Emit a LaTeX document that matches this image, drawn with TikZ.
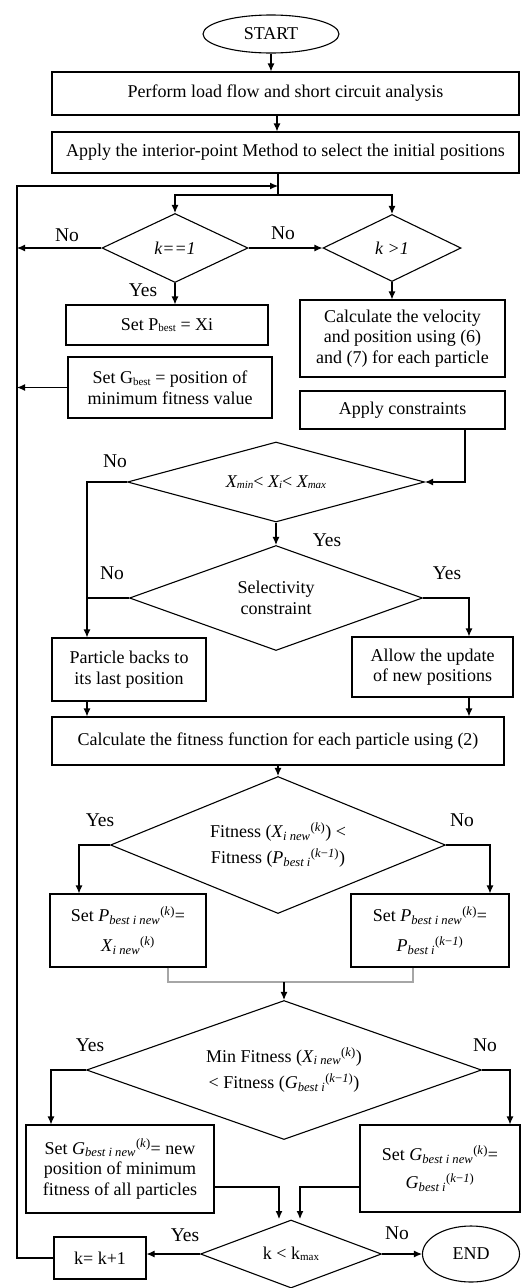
\documentclass[tikz,border=0pt]{standalone}
\usepackage{fontspec}
\setmainfont{Liberation Serif}
\usetikzlibrary{shapes.geometric,arrows.meta}
\newcommand{\sbx}[1]{\raisebox{-1.5pt}{\fontsize{11}{12}\selectfont #1}}
\newcommand{\vv}[3]{\textit{#1}\textsubscript{\textit{#2}}\textsuperscript{(\textit{#3})}}
\begin{document}
\begin{tikzpicture}[x=1pt,y=-1pt,
  font=\fontsize{18}{20.5}\selectfont,
  line width=1.1pt,
  box/.style={draw,rectangle,inner sep=0pt,align=center},
  dia/.style={draw,diamond,inner sep=0pt,align=center},
  oval/.style={draw,ellipse,inner sep=0pt},
  arr/.style={-{Latex[length=8pt,width=7pt]}},
  lbl/.style={inner sep=0pt,font=\fontsize{19.5}{22}\selectfont},
]
\useasboundingbox (0,0) rectangle (523,1288);

% nodes
\node[oval,minimum width=136pt,minimum height=38pt] (start) at (271,34) {START};
\node[box,minimum width=467pt,minimum height=43pt] (b1) at (285.5,93.5) {Perform load flow and short circuit analysis};
\node[box,minimum width=467pt,minimum height=41pt] (b2) at (285.5,152.5) {Apply the interior-point Method to select the initial positions};

\node[dia,aspect=2.1,minimum width=146pt,minimum height=69pt] (d1) at (175,248) {\textit{k==1}};
\node[dia,aspect=2.05,minimum width=138pt,minimum height=67pt] (d2) at (392,248) {\textit{k >1}};

\node[box,minimum width=202pt,minimum height=40pt] (pb) at (167,325) {Set P\sbx{best} = Xi};
\node[box,minimum width=205pt,minimum height=77pt] (calc) at (402.5,338.5) {Calculate the velocity\\and position using (6)\\and (7) for each particle};
\node[box,minimum width=204pt,minimum height=61pt] (gb) at (170,387.5) {Set G\sbx{best} = position of\\minimum fitness value};
\node[box,minimum width=205pt,minimum height=38pt] (ac) at (402.5,410) {Apply constraints};

\node[dia,aspect=3.7,minimum width=297pt,minimum height=80pt] (d3) at (276,482) {\textit{X\sbx{min}}< \textit{X\sbx{i}}< \textit{X\sbx{max}}};
\node[dia,aspect=2.79,minimum width=293pt,minimum height=105pt] (d4) at (276,598) {Selectivity\\constraint};

\node[box,minimum width=154pt,minimum height=63pt] (pa) at (129,669.5) {Particle backs to\\its last position};
\node[box,minimum width=161pt,minimum height=60pt] (al) at (432.5,667) {Allow the update\\of new positions};

\node[box,minimum width=452pt,minimum height=48pt] (fit) at (278,741) {Calculate the fitness function for each particle using (2)};

\node[dia,aspect=2.45,minimum width=335pt,minimum height=137pt] (d5) at (278,845) {Fitness (\vv{X}{i new}{k}) <\\[5pt]Fitness (\vv{P}{best i}{k\textup{−}1})};

\node[box,minimum width=156pt,minimum height=73pt] (sp1) at (128,930.5) {Set \vv{P}{best i new}{k}=\\[9pt]\vv{X}{i new}{k}};
\node[box,minimum width=158pt,minimum height=73pt] (sp2) at (430,930.5) {Set \vv{P}{best i new}{k}=\\[9pt]\vv{P}{best i}{k\textup{−}1}};

\node[dia,aspect=2.84,minimum width=395pt,minimum height=139pt] (d6) at (284,1070) {Min Fitness (\vv{X}{i new}{k})\\[6pt]< Fitness (\vv{G}{best i}{k\textup{−}1})};

\node[box,minimum width=188pt,minimum height=88pt] (sg1) at (120,1169) {Set \vv{G}{best i new}{k}= new\\position of minimum\\fitness of all particles};
\node[box,minimum width=160pt,minimum height=87pt] (sg2) at (440,1168.5) {Set \vv{G}{best i new}{k}=\\[8pt]\vv{G}{best i}{k\textup{−}1}};

\node[dia,aspect=2.6,minimum width=181pt,minimum height=68pt] (d7) at (291,1254) {k < k\sbx{max}};
\node[box,minimum width=92pt,minimum height=42pt] (kb) at (100,1258) {k= k+1};
\node[oval,minimum width=97pt,minimum height=56pt] (end) at (471,1254) {END};

% labels
\node[lbl] (y1n) at (67,235) {No};
\node[lbl] (y2n) at (283,233) {No};
\node[lbl] (y1y) at (143,290) {Yes};
\node[lbl] (y3n) at (115,461) {No};
\node[lbl] (y3y) at (327,540) {Yes};
\node[lbl] (y4n) at (112,573) {No};
\node[lbl] (y4y) at (447,573) {Yes};
\node[lbl] (y5y) at (100,820) {Yes};
\node[lbl] (y5n) at (462,820) {No};
\node[lbl] (y6y) at (90,1045) {Yes};
\node[lbl] (y6n) at (485,1045) {No};
\node[lbl] (y7y) at (185,1235) {Yes};
\node[lbl] (y7n) at (397,1233) {No};

% helper coordinates
\coordinate (xA) at (277,0);
\coordinate (split) at (278,195);
\coordinate (loopL) at (17,186);
\coordinate (loopR) at (278,186);
\coordinate (cx) at (465,0);
\coordinate (lx) at (87,0);
\coordinate (rx) at (469,0);
\coordinate (p1x) at (79,0);
\coordinate (p2x) at (490,0);
\coordinate (g1) at (168,982);
\coordinate (g2) at (413,982);
\coordinate (q1x) at (51,0);
\coordinate (q2x) at (510,0);
\coordinate (m1) at (279,1187);
\coordinate (m1e) at (279,1219);
\coordinate (m2) at (300,1187);
\coordinate (m2e) at (300,1219);

% connectors
\draw[arr] (start.south) -- (start.south |- b1.north);
\draw[arr] (b1.south -| xA) -- (b2.north -| xA);
\draw (b2.south -| split) -- (split);
\draw[arr] (split) -| (d1.north);
\draw[arr] (split) -| (d2.north);
\draw[arr] (kb.west) -| (loopL) -- (loopR);
\draw[arr] (d1.west) -- (d1.west -| loopL);
\draw[arr] (d1.east) -- (d2.west);
\draw[arr] (d1.south) -- (d1.south |- pb.north);
\draw[arr] (d2.south) -- (d2.south |- calc.north);
\draw[arr] (gb.west) -- (gb.west -| loopL);
\draw[arr] (ac.south -| cx) |- (d3.east);
\draw[arr] (d3.south) -- (d4.north);
\draw[arr] (d3.west) -| (pa.north -| lx);
\draw (d4.west) -- (d4.west -| lx);
\draw[arr] (d4.east) -| (al.north -| rx);
\draw[arr] (pa.south -| lx) -- (fit.north -| lx);
\draw[arr] (al.south -| rx) -- (fit.north -| rx);
\draw[arr] (fit.south) -- (d5.north);
\draw[arr] (d5.west) -| (sp1.north -| p1x);
\draw[arr] (d5.east) -| (sp2.north -| p2x);
\draw[gray!70] (sp1.south -| g1) -- (g1) -- (g2) -- (sp2.south -| g2);
\draw[arr] (d6.north |- g1) -- (d6.north);
\draw[arr] (d6.west) -| (sg1.north -| q1x);
\draw[arr] (d6.east) -| (sg2.north -| q2x);
\draw[arr] (sg1.east |- m1) -- (m1) -- (m1e);
\draw[arr] (sg2.west |- m2) -- (m2) -- (m2e);
\draw[arr] (d7.west) -- (d7.west -| kb.east);
\draw[arr] (d7.east) -- (end.west);
\end{tikzpicture}
\end{document}
